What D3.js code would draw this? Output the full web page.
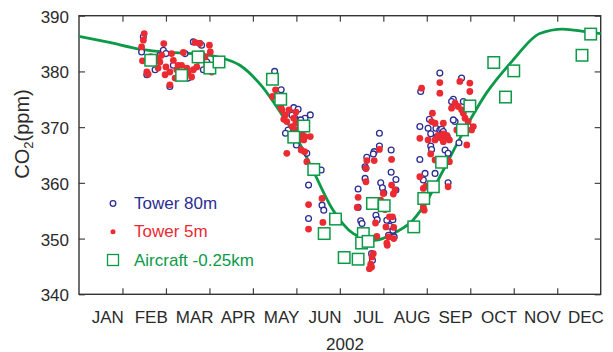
<!DOCTYPE html>
<html>
<head>
<meta charset="utf-8">
<script src="https://cdn.jsdelivr.net/npm/d3@7"></script>
<style>
  html, body { margin: 0; padding: 0; background: #fff; }
  svg { display: block; font-family: "Liberation Sans", Arial, Helvetica, sans-serif; }
</style>
</head>
<body>
<svg id="chart" width="613" height="352"></svg>
<script>
// Time is expressed as fractional month of 2002 (0 = 1 Jan, 12 = 31 Dec).
const monthLabels = ["JAN","FEB","MAR","APR","MAY","JUN","JUL","AUG","SEP","OCT","NOV","DEC"];
const yTicks = [340, 350, 360, 370, 380, 390];
const seriesNames = ["Tower 80m", "Tower 5m", "Aircraft -0.25km"];
const yearLabel = "2002";

// Smoothed seasonal cycle [month, ppm]
const fitCurve = [
  [0, 386.3], [0.7, 385.2], [1.4, 384.0], [2.1, 383.4], [2.78, 383.1], [3.24, 382.5],
  [3.7, 381.1], [4.21, 377.3], [4.67, 372.2], [4.97, 368.6], [5.36, 362.6], [5.82, 355.4],
  [6.31, 350.9], [6.8, 349.7], [7.3, 351.2], [7.68, 353.3], [7.99, 356.6], [8.3, 361.1],
  [8.91, 370.1], [9.37, 376.1], [9.98, 382.0], [10.6, 386.8], [11.13, 387.6],
  [11.67, 387.1], [12, 386.8]
];

// Tower inlet at 80 m [month, ppm]
const tower80 = [
  [1.44,383.5],[1.48,386.2],[1.56,379.4],[1.64,382.6],[1.94,383.8],[2.00,383.2],[2.17,381.1],
  [2.09,377.3],[2.44,383.2],[2.63,385.3],[2.78,385.0],[2.86,380.3],[2.94,381.7],[2.82,384.7],
  [2.32,379.4],[1.75,380.3],[1.86,382.9],[2.51,378.8],
  [4.50,380.0],[4.52,378.5],[4.65,376.7],[4.68,375.5],[4.94,373.5],[4.90,372.2],[4.97,371.6],
  [5.20,371.6],[5.32,372.2],[4.81,369.5],[4.75,368.9],[5.24,365.3],[5.57,362.3],[5.28,359.6],
  [5.59,356.0],[5.63,355.1],[5.28,353.6],[5.04,373.2],[5.00,366.8],[5.10,371.3],
  [6.91,368.9],[6.91,366.6],[6.79,365.6],[6.77,365.2],[6.62,364.6],[6.58,362.9],[6.60,362.6],
  [7.18,365.9],[7.18,361.9],[7.29,360.6],[6.58,360.8],[6.94,360.0],[6.98,359.1],[7.01,358.2],
  [6.42,358.9],[7.29,358.7],[6.42,355.6],[6.48,353.2],[6.51,352.7],[6.83,354.2],[6.86,353.4],
  [7.08,353.3],[7.22,353.4],[7.15,352.2],[7.22,351.5],[7.25,350.3],[7.12,350.6],[6.75,346.1],
  [6.73,347.3],[6.56,351.2],
  [8.30,379.7],[8.80,378.8],[7.86,376.4],[8.61,375.0],[8.57,374.6],[8.84,374.6],[7.84,370.1],
  [8.03,369.8],[8.09,368.8],[8.21,369.8],[8.30,369.5],[8.34,369.6],[8.38,369.2],[8.65,371.0],
  [8.61,371.3],[8.09,366.6],[8.11,366.0],[8.42,365.9],[7.84,364.2],[7.96,361.7],[8.19,361.7],
  [8.49,360.0],[7.92,360.5],[8.23,368.2],[8.47,368.3],[8.49,365.3],[8.74,367.2],[8.95,370.2],
  [8.06,371.4]
];

// Tower inlet at 5 m [month, ppm]
const tower5 = [
  [1.50,386.8],[1.48,385.6],[1.44,384.4],[1.46,381.9],[1.56,379.9],[1.59,379.5],[1.67,382.6],
  [1.79,382.4],[1.86,381.7],[1.90,382.9],[1.95,385.0],[2.00,380.8],[2.09,379.9],[2.13,383.2],
  [2.17,382.0],[2.25,380.3],[2.21,378.8],[2.09,377.6],[2.36,381.1],[2.40,383.4],[2.48,380.6],
  [2.51,379.7],[2.59,379.0],[2.63,380.3],[2.71,380.8],[2.74,382.0],[2.78,385.0],[2.82,383.2],
  [2.90,382.6],[2.94,381.1],[3.00,384.7],[3.02,383.5],[3.05,379.9],[2.67,385.2],[2.28,381.1],
  [1.98,379.4],[1.82,380.6],
  [4.52,376.7],[4.45,375.5],[4.64,373.7],[4.67,373.1],[4.75,372.2],[4.78,371.0],[4.94,371.6],
  [4.90,370.1],[4.97,369.5],[5.09,369.8],[5.13,368.9],[5.20,368.3],[5.32,368.3],[5.05,367.7],
  [5.11,365.9],[5.19,365.6],[4.78,365.3],[5.24,363.8],[5.59,357.2],[5.28,356.1],[5.61,352.9],
  [5.28,351.7],[4.71,371.4],[4.83,373.1],[4.99,370.7],[5.08,368.4],[4.99,372.7],[5.17,367.7],
  [6.91,366.0],[6.79,364.0],[6.62,364.0],[6.60,362.6],[6.60,360.2],[7.19,364.2],[7.19,359.6],
  [7.27,358.7],[7.23,358.0],[7.00,358.1],[6.94,356.9],[7.04,355.2],[7.14,353.9],[7.21,353.9],
  [6.82,352.8],[6.42,357.4],[6.40,355.6],[7.06,352.1],[7.24,352.0],[6.85,350.4],[7.12,350.3],
  [7.24,350.0],[7.09,348.8],[7.08,349.2],[6.74,346.7],[6.71,345.4],[6.73,344.9],[6.68,344.6],
  [6.54,351.4],[6.77,347.3],
  [8.30,378.0],[8.30,376.1],[7.88,377.0],[8.76,378.2],[8.99,377.9],[8.99,376.4],[8.65,374.3],
  [8.72,373.7],[8.80,373.1],[8.84,372.5],[8.57,373.4],[8.88,371.6],[8.95,371.0],[9.07,370.1],
  [9.03,369.5],[8.13,372.5],[8.11,371.0],[8.38,370.7],[8.19,370.7],[8.03,367.7],[8.19,367.7],
  [8.34,368.0],[8.38,367.4],[8.52,367.7],[7.84,368.0],[8.69,369.5],[8.92,366.8],[8.46,364.1],
  [8.52,363.8],[8.19,364.1],[7.84,361.1],[7.98,359.4],[7.92,359.0],[8.49,359.3],[7.94,355.1],
  [7.92,355.7],[8.38,368.8],[8.26,368.5],[8.46,368.5],[8.09,365.2]
];

// Aircraft profiles, 0.25 km level [month, ppm]
const aircraft = [
  [1.65,382.0],[2.36,379.3],[2.74,382.6],[3.01,380.6],[3.22,381.7],
  [4.45,378.6],[4.64,375.0],[5.17,370.2],[4.94,368.2],[5.40,362.4],
  [5.90,353.5],[5.64,350.9],[6.10,346.6],[6.42,346.3],[6.54,350.9],[6.50,349.2],[6.65,349.5],
  [6.75,356.3],[7.02,355.9],[7.70,352.1],[7.93,357.2],[8.15,359.3],[8.34,363.7],[8.82,369.5],
  [8.99,373.8],[9.54,381.6],[9.81,375.4],[10.0,380.1],[11.57,382.9],[11.77,386.7]
];

const colors = { blue: "#2b2e92", red: "#ec2a32", green: "#0c9a48", ink: "#2a2a2a" };

const svg = d3.select("#chart");
const plotLeft = 79, plotRight = 600.7, plotTop = 15.7, plotBottom = 294.3;

const x = d3.scaleLinear().domain([0, 12]).range([plotLeft, plotRight]);
const y = d3.scaleLinear().domain([340, 390]).range([plotBottom, plotTop]);
const band = d3.scaleBand().domain(monthLabels).range([plotLeft, plotRight]);

// Frame and inward ticks on all four sides
const monthTicks = d3.range(1, 12);
svg.append("g").attr("transform", `translate(0,${plotBottom})`)
  .call(d3.axisBottom(x).tickValues(monthTicks).tickSizeInner(-6).tickSizeOuter(0).tickFormat(""))
  .call(g => g.select(".domain").remove());
svg.append("g").attr("transform", `translate(0,${plotTop})`)
  .call(d3.axisTop(x).tickValues(monthTicks).tickSizeInner(-6).tickSizeOuter(0).tickFormat(""))
  .call(g => g.select(".domain").remove());
const yLeft = svg.append("g").attr("transform", `translate(${plotLeft},0)`)
  .call(d3.axisLeft(y).tickValues(yTicks).tickSizeInner(-6).tickSizeOuter(0).tickPadding(10))
  .call(g => g.select(".domain").remove());
svg.append("g").attr("transform", `translate(${plotRight},0)`)
  .call(d3.axisRight(y).tickValues(yTicks).tickSizeInner(-6).tickSizeOuter(0).tickFormat(""))
  .call(g => g.select(".domain").remove());
svg.selectAll(".tick line").attr("stroke", "#444").attr("stroke-width", 1.2);
yLeft.selectAll("text")
  .attr("font-size", 17).attr("fill", colors.ink)
  .attr("font-family", "Liberation Sans, Arial, sans-serif")
  .attr("dy", "0.38em");

svg.append("rect")
  .attr("x", plotLeft).attr("y", plotTop)
  .attr("width", plotRight - plotLeft).attr("height", plotBottom - plotTop)
  .attr("fill", "none").attr("stroke", "#333").attr("stroke-width", 1.4);

// Month labels
svg.append("g").selectAll("text").data(monthLabels).join("text")
  .attr("x", d => band(d) + band.bandwidth() / 2 + 7)
  .attr("y", 323)
  .attr("text-anchor", "middle")
  .attr("font-size", 17)
  .attr("fill", colors.ink)
  .text(d => d);

svg.append("text")
  .attr("x", 345).attr("y", 349.5)
  .attr("text-anchor", "middle").attr("font-size", 17).attr("fill", colors.ink)
  .text(yearLabel);

// Y axis title with subscript
const yTitle = svg.append("text")
  .attr("transform", "translate(29,134) rotate(-90)")
  .attr("text-anchor", "middle").attr("font-size", 20).attr("fill", colors.ink);
yTitle.append("tspan").text("CO");
yTitle.append("tspan").attr("font-size", 13).attr("dy", 4).text("2");
yTitle.append("tspan").attr("dy", -4).text("(ppm)");

// Plot content
const plot = svg.append("g");

plot.append("path")
  .datum(fitCurve)
  .attr("fill", "none").attr("stroke", colors.green).attr("stroke-width", 2.8)
  .attr("d", d3.line().x(d => x(d[0])).y(d => y(d[1])).curve(d3.curveMonotoneX));

plot.append("g").selectAll("circle").data(tower80).join("circle")
  .attr("cx", d => x(d[0])).attr("cy", d => y(d[1])).attr("r", 2.9)
  .attr("fill", "#fff").attr("stroke", colors.blue).attr("stroke-width", 1.3);

plot.append("g").selectAll("circle").data(tower5).join("circle")
  .attr("cx", d => x(d[0])).attr("cy", d => y(d[1])).attr("r", 3.4)
  .attr("fill", colors.red);

const sq = 11.5;
plot.append("g").selectAll("rect").data(aircraft).join("rect")
  .attr("x", d => x(d[0]) - sq / 2).attr("y", d => y(d[1]) - sq / 2)
  .attr("width", sq).attr("height", sq)
  .attr("fill", "#fff").attr("stroke", colors.green).attr("stroke-width", 1.5);

// Legend
const legend = svg.append("g");
const legendRows = [
  { name: seriesNames[0], color: colors.blue, cy: 203.5 },
  { name: seriesNames[1], color: colors.red, cy: 231.8 },
  { name: seriesNames[2], color: colors.green, cy: 260 }
];
legend.append("circle").attr("cx", 113).attr("cy", legendRows[0].cy).attr("r", 2.8)
  .attr("fill", "#fff").attr("stroke", colors.blue).attr("stroke-width", 1.3);
legend.append("circle").attr("cx", 113).attr("cy", legendRows[1].cy).attr("r", 2.5)
  .attr("fill", colors.red);
legend.append("rect").attr("x", 113 - 5.5).attr("y", legendRows[2].cy - 5.5)
  .attr("width", 11).attr("height", 11)
  .attr("fill", "#fff").attr("stroke", colors.green).attr("stroke-width", 1.3);
legend.selectAll("text").data(legendRows).join("text")
  .attr("x", 134).attr("y", d => d.cy + 5.5)
  .attr("font-size", 17).attr("fill", d => d.color)
  .text(d => d.name);
</script>
</body>
</html>
